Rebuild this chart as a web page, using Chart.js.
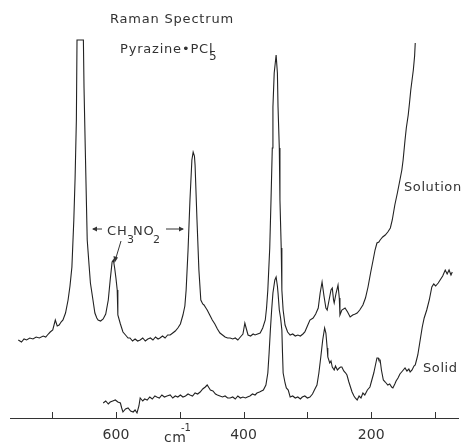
<!DOCTYPE html>
<html>
<head>
<meta charset="utf-8">
<script src="https://cdn.jsdelivr.net/npm/chart.js@4"></script>
<style>
  body { margin: 0; background: #fff; }
  #wrap { width: 461px; height: 444px; }
</style>
</head>
<body>
<div id="wrap"><canvas id="graph" width="461" height="444"></canvas></div>
<script>
// Raman spectrum, pyrazine.PCl5 (cm-1, intensite relative)
const solutionWn = [753, 748, 744, 740, 735, 730, 725, 720, 714, 710, 706, 703, 699, 695, 692, 689, 686, 683, 679, 675,
  672, 669, 666, 664, 662, 661, 656, 651, 650, 648, 645, 642, 640, 636, 633, 630, 628, 624, 620, 616,
  612, 609, 606, 604, 602, 600, 598, 597, 593, 589, 585, 581, 578, 574, 570, 566, 562, 558, 554, 550,
  546, 542, 538, 534, 531, 527, 523, 519, 515, 511, 507, 503, 499, 495, 492, 490, 487, 484, 481, 479,
  477, 476, 473, 470, 467, 464, 462, 459, 457, 453, 449, 445, 441, 437, 433, 429, 425, 421, 417, 413,
  409, 405, 401, 398, 396, 393, 389, 385, 382, 378, 374, 370, 366, 364, 362, 359, 357, 355, 354, 352,
  349, 347, 346, 344, 343, 341, 340, 338, 335, 331, 327, 323, 319, 315, 311, 307, 304, 300, 296, 291,
  287, 283, 280, 277, 274, 271, 269, 266, 263, 261, 259, 258, 255, 252, 250, 249, 246, 241, 237, 233,
  229, 225, 222, 218, 213, 209, 205, 201, 197, 194, 191, 188, 186, 182, 178, 174, 170, 167, 163, 159,
  155, 152, 150, 147, 145, 142, 140, 138, 136, 134, 132, 131];
const solutionI = [78, 76, 79, 78, 80, 79, 81, 80, 82, 81, 84, 86, 88, 98, 92, 93, 96, 98, 105, 118,
  132, 151, 198, 240, 298, 378, 378, 378, 330, 268, 178, 152, 135, 118, 105, 100, 98, 97, 99, 104,
  118, 138, 156, 158, 150, 140, 128, 103, 94, 86, 83, 80, 80, 77, 79, 77, 78, 80, 77, 79,
  80, 78, 81, 79, 80, 82, 80, 83, 83, 85, 87, 90, 94, 103, 112, 128, 168, 218, 258, 266,
  262, 253, 198, 148, 118, 114, 113, 110, 108, 103, 98, 94, 89, 85, 83, 81, 80, 80, 79, 80,
  78, 81, 84, 95, 90, 83, 82, 84, 83, 84, 85, 90, 98, 110, 128, 170, 218, 270, 311, 345,
  363, 345, 311, 270, 218, 170, 128, 108, 93, 86, 83, 84, 82, 83, 82, 84, 86, 92, 98, 100,
  104, 110, 125, 136, 122, 110, 108, 118, 128, 130, 118, 115, 125, 133, 120, 103, 108, 110, 106, 101,
  103, 104, 105, 108, 113, 120, 131, 145, 158, 168, 175, 176, 178, 181, 183, 186, 190, 198, 213, 225,
  238, 248, 258, 278, 290, 303, 315, 328, 338, 348, 362, 375];

const solidWn = [620, 616, 612, 609, 605, 601, 597, 593, 591, 589, 585, 581, 577, 573, 570, 567, 564, 562, 558, 555,
  551, 547, 543, 539, 536, 532, 528, 524, 520, 515, 511, 507, 503, 499, 495, 491, 487, 484, 480, 476,
  472, 468, 464, 460, 457, 454, 452, 448, 444, 441, 437, 433, 429, 425, 421, 417, 413, 409, 405, 401,
  397, 394, 390, 386, 382, 379, 375, 372, 369, 365, 362, 360, 358, 356, 354, 351, 349, 347, 346, 344,
  342, 340, 339, 338, 335, 333, 330, 327, 323, 319, 315, 311, 308, 304, 300, 296, 292, 289, 285, 282,
  279, 276, 273, 271, 269, 268, 265, 263, 261, 258, 256, 253, 250, 248, 246, 243, 240, 238, 235, 232,
  230, 227, 225, 222, 219, 216, 213, 210, 206, 202, 199, 196, 194, 191, 189, 188, 186, 184, 181, 178,
  174, 171, 168, 166, 163, 161, 158, 155, 151, 147, 144, 141, 139, 136, 133, 131, 129, 127, 124, 120,
  117, 113, 109, 105, 102, 99, 95, 92, 88, 84, 81, 78, 75, 73];
const solidI = [15, 17, 14, 16, 17, 18, 16, 15, 10, 6, 9, 10, 7, 6, 8, 5, 12, 20, 17, 19,
  18, 21, 19, 22, 21, 20, 23, 21, 22, 23, 20, 22, 21, 23, 21, 22, 24, 23, 22, 25,
  24, 26, 29, 31, 33, 30, 28, 27, 24, 23, 22, 21, 22, 20, 20, 21, 19, 22, 20, 21,
  20, 21, 22, 24, 23, 25, 26, 27, 28, 33, 45, 65, 88, 108, 125, 138, 141, 132, 125, 108,
  100, 88, 65, 45, 35, 30, 28, 21, 22, 20, 21, 19, 21, 22, 20, 21, 24, 28, 33, 45,
  61, 78, 90, 85, 70, 61, 55, 57, 51, 48, 52, 48, 50, 51, 51, 47, 45, 43, 36, 30,
  26, 22, 20, 18, 22, 20, 25, 23, 28, 31, 38, 45, 51, 60, 60, 58, 58, 48, 38, 36,
  33, 34, 31, 30, 34, 37, 40, 44, 47, 50, 47, 49, 46, 48, 52, 53, 58, 63, 75, 91,
  100, 108, 118, 131, 134, 132, 135, 138, 142, 148, 144, 148, 143, 146];

const tickValues = [700, 600, 500, 400, 300, 200, 100];
const tickLabels = [600, 400, 200];

function points(xs, ys) {
  return xs.map((x, i) => ({ x: x, y: ys[i] }));
}

// annotations (textes + petites graduations vers le haut)
const annotations = {
  id: 'annotations',
  afterDraw(chart) {
    const ctx = chart.ctx;
    const xs = chart.scales.x;
    const bottom = chart.chartArea.bottom;
    ctx.save();
    ctx.strokeStyle = '#333';
    ctx.lineWidth = 1;
    tickValues.forEach(v => {
      const px = Math.round(xs.getPixelForValue(v)) + 0.5;
      ctx.beginPath();
      ctx.moveTo(px, bottom);
      ctx.lineTo(px, bottom - 6);
      ctx.stroke();
    });

    ctx.fillStyle = '#333';
    ctx.textBaseline = 'alphabetic';
    ctx.font = '13px "DejaVu Sans"';
    ctx.letterSpacing = '0.8px';
    ctx.fillText('Raman Spectrum', 110, 23);
    ctx.fillText('Pyrazine\u2022PCl', 120, 53);
    ctx.font = '12px "DejaVu Sans"';
    ctx.fillText('5', 209, 60);

    // CH3NO2 avec fleches
    ctx.font = '13px "DejaVu Sans"';
    ctx.fillText('CH', 107, 235);
    ctx.fillText('NO', 133, 235);
    ctx.font = '11px "DejaVu Sans"';
    ctx.fillText('3', 127, 243);
    ctx.fillText('2', 153, 243);
    ctx.letterSpacing = '0px';
    ctx.beginPath();
    ctx.moveTo(102, 229); ctx.lineTo(93, 229);
    ctx.moveTo(166, 229); ctx.lineTo(183, 229);
    ctx.moveTo(121, 241); ctx.lineTo(115, 261);
    ctx.stroke();
    ctx.beginPath();
    ctx.moveTo(92, 229); ctx.lineTo(97, 226.5); ctx.lineTo(97, 231.5); ctx.closePath();
    ctx.moveTo(184, 229); ctx.lineTo(179, 226.5); ctx.lineTo(179, 231.5); ctx.closePath();
    ctx.moveTo(114.5, 263); ctx.lineTo(113.5, 256); ctx.lineTo(118, 257.5); ctx.closePath();
    ctx.fill();

    ctx.font = '13px "DejaVu Sans"';
    ctx.letterSpacing = '0.6px';
    ctx.fillText('Solution', 404, 191);
    ctx.fillText('Solid', 423, 372);

    ctx.font = '14px "DejaVu Sans"';
    ctx.fillText('cm', 164, 442);
    ctx.font = '10px "DejaVu Sans"';
    ctx.letterSpacing = '0px';
    ctx.fillText('-1', 181, 431);
    ctx.restore();
  }
};

new Chart(document.getElementById('graph'), {
  type: 'line',
  data: {
    datasets: [
      { label: 'Solution', data: points(solutionWn, solutionI), borderColor: '#222', borderWidth: 1.1, pointRadius: 0, tension: 0 },
      { label: 'Solid', data: points(solidWn, solidI), borderColor: '#222', borderWidth: 1.1, pointRadius: 0, tension: 0 }
    ]
  },
  options: {
    responsive: false,
    devicePixelRatio: 1,
    animation: false,
    layout: { padding: { left: 10, right: 3, top: 0, bottom: 0 } },
    plugins: { legend: { display: false }, tooltip: { enabled: false } },
    scales: {
      x: {
        type: 'linear',
        reverse: true,
        min: 64,
        max: 766,
        grid: { display: false, drawTicks: false },
        border: { display: true, color: '#333', width: 1 },
        afterBuildTicks: s => { s.ticks = tickValues.map(v => ({ value: v })); },
        ticks: {
          padding: 9,
          autoSkip: false,
          maxRotation: 0,
          color: '#333',
          font: { family: 'DejaVu Sans', size: 14 },
          callback: v => tickLabels.includes(v) ? String(v) : ''
        },
        afterFit: s => { s.height = 26; }
      },
      y: { display: false, min: 0, max: 418 }
    }
  },
  plugins: [annotations]
});
</script>
</body>
</html>
